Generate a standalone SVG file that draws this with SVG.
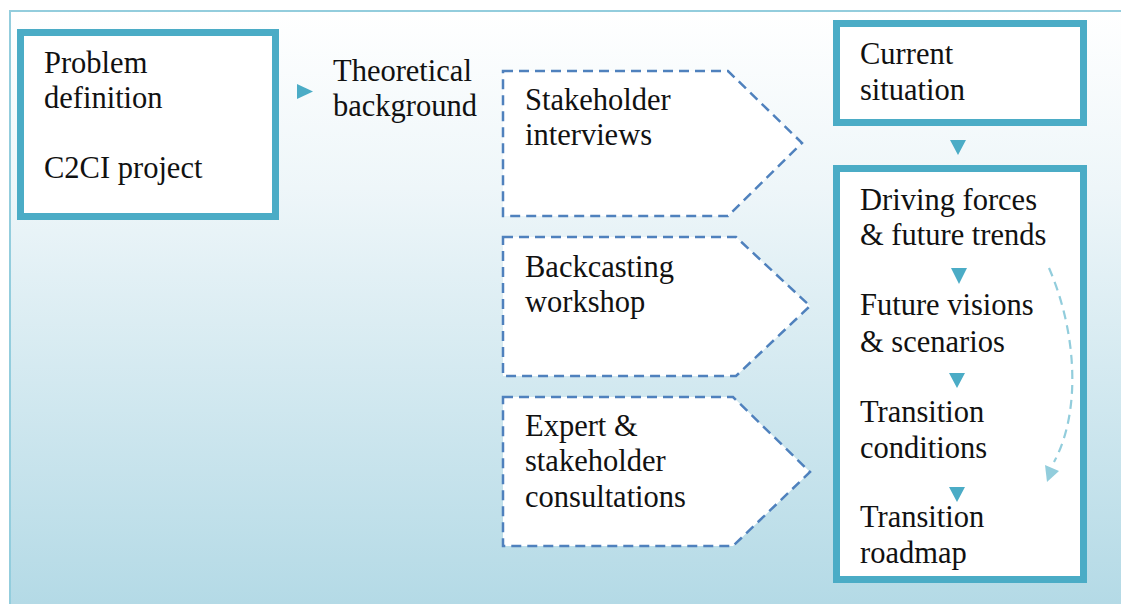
<svg xmlns="http://www.w3.org/2000/svg" width="1121" height="604" viewBox="0 0 1121 604">
<defs>
<linearGradient id="bg" x1="0" y1="10" x2="0" y2="604" gradientUnits="userSpaceOnUse">
<stop offset="0" stop-color="#ffffff"/>
<stop offset="0.3" stop-color="#eef6f9"/>
<stop offset="1" stop-color="#b4dae6"/>
</linearGradient>
<style>
.t{font-family:"Liberation Serif","Times New Roman",serif;font-size:30.5px;fill:#111111;}
.solid{fill:#ffffff;stroke:#4bacc6;stroke-width:7;}
.dash{fill:#ffffff;stroke:#4f81bd;stroke-width:2.5;stroke-dasharray:10 6;}
.tri{fill:#4bacc6;}
</style>
</defs>
<rect x="0" y="0" width="1121" height="604" fill="#ffffff"/>
<rect x="10" y="11" width="1115" height="600" fill="url(#bg)" stroke="#93cddd" stroke-width="2"/>

<g id="problem">
<rect class="solid" x="20.5" y="32.5" width="255" height="184"/>
<text class="t" x="44" y="73">Problem</text>
<text class="t" x="44" y="108">definition</text>
<text class="t" x="44" y="178">C2CI project</text>
</g>

<g id="theoretical">
<text class="t" x="333" y="81">Theoretical</text>
<text class="t" x="333" y="116">background</text>
</g>

<g id="stakeholder">
<path class="dash" d="M503,71 L728,71 L802,143 L728,216 L503,216 Z"/>
<text class="t" x="525" y="110">Stakeholder</text>
<text class="t" x="525" y="145">interviews</text>
</g>

<g id="backcasting">
<path class="dash" d="M503,237 L736,237 L810,306 L736,376 L503,376 Z"/>
<text class="t" x="525" y="277">Backcasting</text>
<text class="t" x="525" y="312">workshop</text>
</g>

<g id="expert">
<path class="dash" d="M503,397 L733,397 L810,472 L733,546 L503,546 Z"/>
<text class="t" x="525" y="436">Expert &amp;</text>
<text class="t" x="525" y="471">stakeholder</text>
<text class="t" x="525" y="507">consultations</text>
</g>

<g id="current">
<rect class="solid" x="836.5" y="23.5" width="247" height="99"/>
<text class="t" x="860" y="64">Current</text>
<text class="t" x="860" y="100">situation</text>
</g>

<g id="process">
<rect class="solid" x="836.5" y="168.5" width="247" height="411"/>
<text class="t" x="860" y="210">Driving forces</text>
<text class="t" x="860" y="245">&amp; future trends</text>
<text class="t" x="860" y="315">Future visions</text>
<text class="t" x="860" y="352">&amp; scenarios</text>
<text class="t" x="860" y="422">Transition</text>
<text class="t" x="860" y="458">conditions</text>
<text class="t" x="860" y="527">Transition</text>
<text class="t" x="860" y="563">roadmap</text>
</g>

<g id="connectors">
<path class="tri" d="M297,84 L313,91.5 L297,99 Z"/>
<path class="tri" d="M950,140 L966,140 L958,155 Z"/>
<path class="tri" d="M951,268 L967,268 L959,284 Z"/>
<path class="tri" d="M949,373 L965,373 L957,388 Z"/>
<path class="tri" d="M949,487 L965,487 L957,502 Z"/>
<path d="M1049,268 C1076,330 1082,410 1054,462" fill="none" stroke="#92cddc" stroke-width="2.2" stroke-dasharray="9 6"/>
<path d="M1045,465 L1059,471 L1047,482 Z" fill="#92cddc"/>
</g>
</svg>
